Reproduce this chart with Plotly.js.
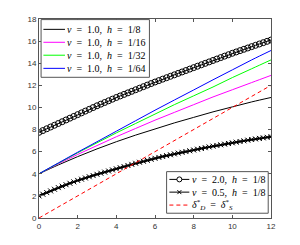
<!DOCTYPE html>
<html>
<head>
<meta charset="utf-8">
<script src="https://cdn.plot.ly/plotly-3.0.1.min.js"></script>
<style>
html,body{margin:0;padding:0;background:#fff;}
#chart{width:300px;height:245px;}
</style>
</head>
<body>
<div id="chart"></div>
<script>
// ---- data ----
const xCoarse = [0,1,2,3,4,5,6,7,8,9,10,11,12];
const nu1_h8  = [4.00,4.80,5.55,6.25,6.90,7.50,8.05,8.60,9.10,9.60,10.05,10.50,10.90];
const nu1_h16 = [4.00,4.90,5.75,6.55,7.35,8.10,8.85,9.55,10.25,10.95,11.60,12.25,12.90];
const nu1_h32 = [4.00,4.95,5.90,6.80,7.70,8.55,9.40,10.25,11.05,11.85,12.70,13.50,14.30];
const nu1_h64 = [4.00,4.98,5.95,6.90,7.85,8.80,9.75,10.67,11.58,12.50,13.40,14.30,15.15];
const deltaEq = [0,1,2,3,4,5,6,7,8,9,10,11,12];

const xFine = [0,0.2,0.4,0.6,0.8,1,1.2,1.4,1.6,1.8,2,2.2,2.4,2.6,2.8,3,3.2,3.4,3.6,3.8,
  4,4.2,4.4,4.6,4.8,5,5.2,5.4,5.6,5.8,6,6.2,6.4,6.6,6.8,7,7.2,7.4,7.6,7.8,
  8,8.2,8.4,8.6,8.8,9,9.2,9.4,9.6,9.8,10,10.2,10.4,10.6,10.8,11,11.2,11.4,11.6,11.8,12];
const nu2_h8 = [7.75,7.91,8.07,8.23,8.39,8.55,8.71,8.87,9.03,9.19,9.35,9.51,9.67,9.83,9.99,10.15,
  10.30,10.45,10.60,10.75,10.90,11.04,11.18,11.32,11.46,11.60,11.74,11.88,12.02,12.16,12.30,
  12.43,12.56,12.69,12.82,12.95,13.08,13.21,13.34,13.47,13.60,13.73,13.86,13.99,14.12,14.25,
  14.38,14.51,14.64,14.77,14.90,15.02,15.14,15.26,15.38,15.50,15.62,15.74,15.86,15.98,16.10];
const nu05_h8 = [2.00,2.15,2.30,2.45,2.60,2.75,2.88,3.01,3.14,3.27,3.40,3.51,3.62,3.73,3.84,3.95,
  4.05,4.15,4.25,4.35,4.45,4.55,4.65,4.75,4.85,4.95,5.04,5.13,5.22,5.31,5.40,
  5.48,5.56,5.64,5.72,5.80,5.87,5.94,6.01,6.08,6.15,6.22,6.29,6.36,6.43,6.50,
  6.56,6.62,6.68,6.74,6.80,6.86,6.92,6.98,7.04,7.10,7.15,7.20,7.25,7.30,7.35];

const xTicks = [0,2,4,6,8,10,12];
const yTicks = [0,2,4,6,8,10,12,14,16,18];

const EQ = '\u2002=\u2002';
const GAP = ',\u2002';
const legendLabels = [
  '<i>ν</i>' + EQ + '1.0' + GAP + '<i>h</i>' + EQ + '1/8',
  '<i>ν</i>' + EQ + '1.0' + GAP + '<i>h</i>' + EQ + '1/16',
  '<i>ν</i>' + EQ + '1.0' + GAP + '<i>h</i>' + EQ + '1/32',
  '<i>ν</i>' + EQ + '1.0' + GAP + '<i>h</i>' + EQ + '1/64',
  '<i>ν</i>' + EQ + '2.0' + GAP + '<i>h</i>' + EQ + '1/8',
  '<i>ν</i>' + EQ + '0.5' + GAP + '<i>h</i>' + EQ + '1/8',
  '<i>δ</i><sup>*</sup><sub><i>D</i></sub>' + EQ + '<i>δ</i><sup>*</sup><sub><i>S</i></sub>'
];
const colors = ['#000000','#ff00ff','#00ff00','#0000ff','#000000','#000000','#ff0000'];

// ---- traces ----
const traces = [
  {x:xCoarse,y:nu1_h8, mode:'lines',line:{color:colors[0],width:1,shape:'spline'}},
  {x:xCoarse,y:nu1_h16,mode:'lines',line:{color:colors[1],width:1,shape:'spline'}},
  {x:xCoarse,y:nu1_h32,mode:'lines',line:{color:colors[2],width:1,shape:'spline'}},
  {x:xCoarse,y:nu1_h64,mode:'lines',line:{color:colors[3],width:1,shape:'spline'}},
  {x:xFine,y:nu2_h8,mode:'lines+markers',line:{color:colors[4],width:1},
   marker:{symbol:'circle-open',size:6,color:colors[4],line:{width:1,color:colors[4]}}},
  {x:xFine,y:nu05_h8,mode:'lines+markers',line:{color:colors[5],width:2},
   marker:{symbol:'x-thin-open',size:5,color:colors[5],line:{width:1,color:colors[5]}}},
  {x:xCoarse,y:deltaEq,mode:'lines',line:{color:colors[6],width:1,dash:'4px,3px'}}
];
traces.forEach(t=>{t.showlegend=false;t.hoverinfo='skip';});

// ---- legend drawn as layout decorations ----
const shapes = [];
const annotations = [];
const legFont = {family:'Liberation Serif, DejaVu Serif, serif', size:10, color:'#000'};
const boxLine = {color:'#555', width:1};
// legend 1 (top-left)
shapes.push({type:'rect',xref:'paper',yref:'paper',x0:0.009,x1:0.476,y0:0.707,y1:0.997,
  line:boxLine,fillcolor:'#fff',layer:'above'});
const l1y = [0.948,0.883,0.818,0.752];
for(let i=0;i<4;i++){
  shapes.push({type:'line',xref:'paper',yref:'paper',x0:0.019,x1:0.112,y0:l1y[i],y1:l1y[i],
    line:{color:colors[i],width:1},layer:'above'});
  annotations.push({xref:'paper',yref:'paper',x:0.114,y:l1y[i],xanchor:'left',yanchor:'middle',
    showarrow:false,text:legendLabels[i],font:legFont});
}
// legend 2 (bottom-right)
shapes.push({type:'rect',xref:'paper',yref:'paper',x0:0.550,x1:0.988,y0:0.024,y1:0.233,
  line:boxLine,fillcolor:'#fff',layer:'above'});
const l2y = [0.194,0.130,0.065];
for(let i=0;i<3;i++){
  const ci = 4+i;
  shapes.push({type:'line',xref:'paper',yref:'paper',x0:0.562,x1:0.648,y0:l2y[i],y1:l2y[i],
    line:{color:colors[ci],width:1,dash:i===2?'4px,3px':'solid'},layer:'above'});
  annotations.push({xref:'paper',yref:'paper',x:0.650,y:l2y[i],xanchor:'left',yanchor:'middle',
    showarrow:false,text:legendLabels[ci],font:legFont});
}
// marker samples
shapes.push({type:'circle',xref:'paper',yref:'paper',xsizemode:'pixel',ysizemode:'pixel',
  xanchor:0.605,yanchor:l2y[0],x0:-2.5,x1:2.5,y0:-2.5,y1:2.5,
  line:{color:'#000',width:1},fillcolor:'#fff',layer:'above'});
shapes.push({type:'line',xref:'paper',yref:'paper',xsizemode:'pixel',ysizemode:'pixel',
  xanchor:0.605,yanchor:l2y[1],x0:-2,x1:2,y0:-2,y1:2,line:{color:'#000',width:1},layer:'above'});
shapes.push({type:'line',xref:'paper',yref:'paper',xsizemode:'pixel',ysizemode:'pixel',
  xanchor:0.605,yanchor:l2y[1],x0:-2,x1:2,y0:2,y1:-2,line:{color:'#000',width:1},layer:'above'});

const axisCommon = {
  showgrid:false, zeroline:false, showline:true, mirror:'ticks',
  linecolor:'#555', linewidth:1, ticks:'inside', ticklen:3, tickcolor:'#555',
  tickfont:{family:'Liberation Sans, Arial, sans-serif', size:8, color:'#333'},
  tickmode:'array', fixedrange:true
};

const layout = {
  width:300, height:245,
  margin:{l:39, r:29, t:19, b:27, pad:0},
  paper_bgcolor:'#fff', plot_bgcolor:'#fff',
  showlegend:false,
  xaxis:Object.assign({}, axisCommon, {range:[0,12], tickvals:xTicks, ticktext:xTicks.map(String)}),
  yaxis:Object.assign({}, axisCommon, {range:[0,18], tickvals:yTicks, ticktext:yTicks.map(String)}),
  shapes:shapes,
  annotations:annotations
};

Plotly.newPlot('chart', traces, layout, {staticPlot:true, displayModeBar:false});
</script>
</body>
</html>
